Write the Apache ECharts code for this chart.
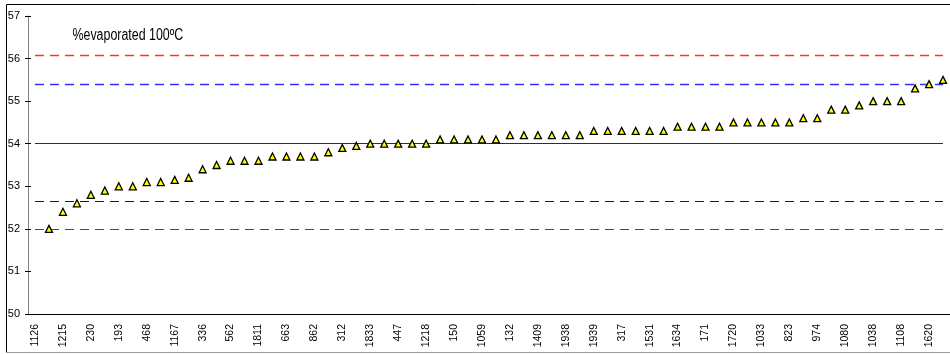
<!DOCTYPE html>
<html>
<head>
<meta charset="utf-8">
<script src="https://cdn.jsdelivr.net/npm/echarts@6/dist/echarts.min.js"></script>
<style>
html,body{margin:0;padding:0;background:#fff;}
#c{width:950px;height:354px;}
</style>
</head>
<body>
<div id="c"></div>
<script>
// Visible tick labels (every other category is labelled)
const tickLabels = ['1126','1215','230','193','468','1167','336','562','1811','663','862','312','1833','447','1218','150','1059','132','1409','1938','1939','317','1531','1634','171','1720','1033','823','974','1080','1038','1108','1620'];
// Values per category (first category has no point)
const values = [null, 52.0, 52.4, 52.6, 52.8, 52.9, 53.0, 53.0, 53.1, 53.1, 53.15, 53.2, 53.4, 53.5, 53.6, 53.6, 53.6, 53.7, 53.7, 53.7, 53.7, 53.8, 53.9, 53.95,
  54.0, 54.0, 54.0, 54.0, 54.0, 54.1, 54.1, 54.1, 54.1, 54.1, 54.2, 54.2, 54.2, 54.2, 54.2, 54.2,
  54.3, 54.3, 54.3, 54.3, 54.3, 54.3, 54.4, 54.4, 54.4, 54.4, 54.5, 54.5, 54.5, 54.5, 54.5,
  54.6, 54.6, 54.8, 54.8, 54.9, 55.0, 55.0, 55.0, 55.3, 55.4, 55.5];
// Reference lines
const refValues = [56.07, 55.39, 54.0, 52.66, 51.98];
const titleText = '%evaporated 100ºC';

// build full category list: labelled at even positions, unlabelled in between
const categories = [];
for (let i = 0; i < values.length; i++) {
  categories.push(i % 2 === 0 ? (tickLabels[i / 2] || '') : '');
}

const FONT = "'Liberation Sans',Arial,sans-serif";
const refStyles = [
  {color: '#ff3030', type: [9, 6], width: 1.3},
  {color: '#3030ff', type: [9, 6], width: 1.3},
  {color: '#303030', type: 'solid', width: 1.2},
  {color: '#0000ee', type: [9, 6], width: 1.15},
  {color: '#ff0000', type: [9, 6], width: 1.15}
];
const lastIdx = values.length - 1;

const refSeries = refValues.map((v, i) => ({
  type: 'line',
  data: [],
  z: 1,
  silent: true,
  markLine: {
    silent: true,
    z: 1,
    symbol: ['none', 'none'],
    label: {show: false},
    lineStyle: refStyles[i],
    emphasis: {disabled: true},
    data: [[{coord: [0, v]}, {coord: [lastIdx, v]}]]
  }
}));

const chart = echarts.init(document.getElementById('c'), null, {renderer: 'canvas'});
chart.setOption({
  animation: false,
  backgroundColor: '#ffffff',
  grid: {left: 28, top: 16, width: 927, height: 298},
  xAxis: {
    type: 'category',
    data: categories,
    boundaryGap: true,
    axisLine: {show: true, lineStyle: {color: '#000', width: 1}},
    axisTick: {show: false},
    splitLine: {show: false},
    axisLabel: {interval: 1, rotate: 90, margin: 10, fontSize: 10.5, fontFamily: FONT, color: '#000'}
  },
  yAxis: [{
    type: 'value', min: 50, max: 57, interval: 1,
    axisLine: {show: true, lineStyle: {color: '#808080', width: 1}},
    axisTick: {show: true, length: 3, lineStyle: {color: '#000'}},
    splitLine: {show: false},
    axisLabel: {margin: 8, fontSize: 11, fontFamily: FONT, color: '#000'}
  }, {
    type: 'value', position: 'left', min: 50, max: 57, interval: 1,
    axisLine: {show: false},
    axisTick: {show: true, inside: true, length: 3, lineStyle: {color: '#000'}},
    splitLine: {show: false},
    axisLabel: {show: false}
  }],
  series: refSeries.concat([{
    type: 'line',
    data: values,
    z: 5,
    symbol: 'triangle',
    symbolSize: 7,
    showAllSymbol: true,
    lineStyle: {opacity: 0, width: 0},
    itemStyle: {color: '#ffff00', borderColor: '#000', borderWidth: 1.3}
  }]),
  graphic: [
    {type: 'line', shape: {x1: 6.5, y1: 4.5, x2: 6.5, y2: 352.5}, style: {stroke: '#000', lineWidth: 1}},
    {type: 'line', shape: {x1: 6.5, y1: 4.5, x2: 950, y2: 4.5}, style: {stroke: '#000', lineWidth: 1}},
    {type: 'line', shape: {x1: 6.5, y1: 352.5, x2: 950, y2: 352.5}, style: {stroke: '#a0a0a0', lineWidth: 1}},
    {type: 'text', x: 72.5, y: 35.5, scaleX: 0.775, style: {text: titleText, fontSize: 16, fontFamily: FONT, fill: '#000', verticalAlign: 'middle'}}
  ]
});
</script>
</body>
</html>
